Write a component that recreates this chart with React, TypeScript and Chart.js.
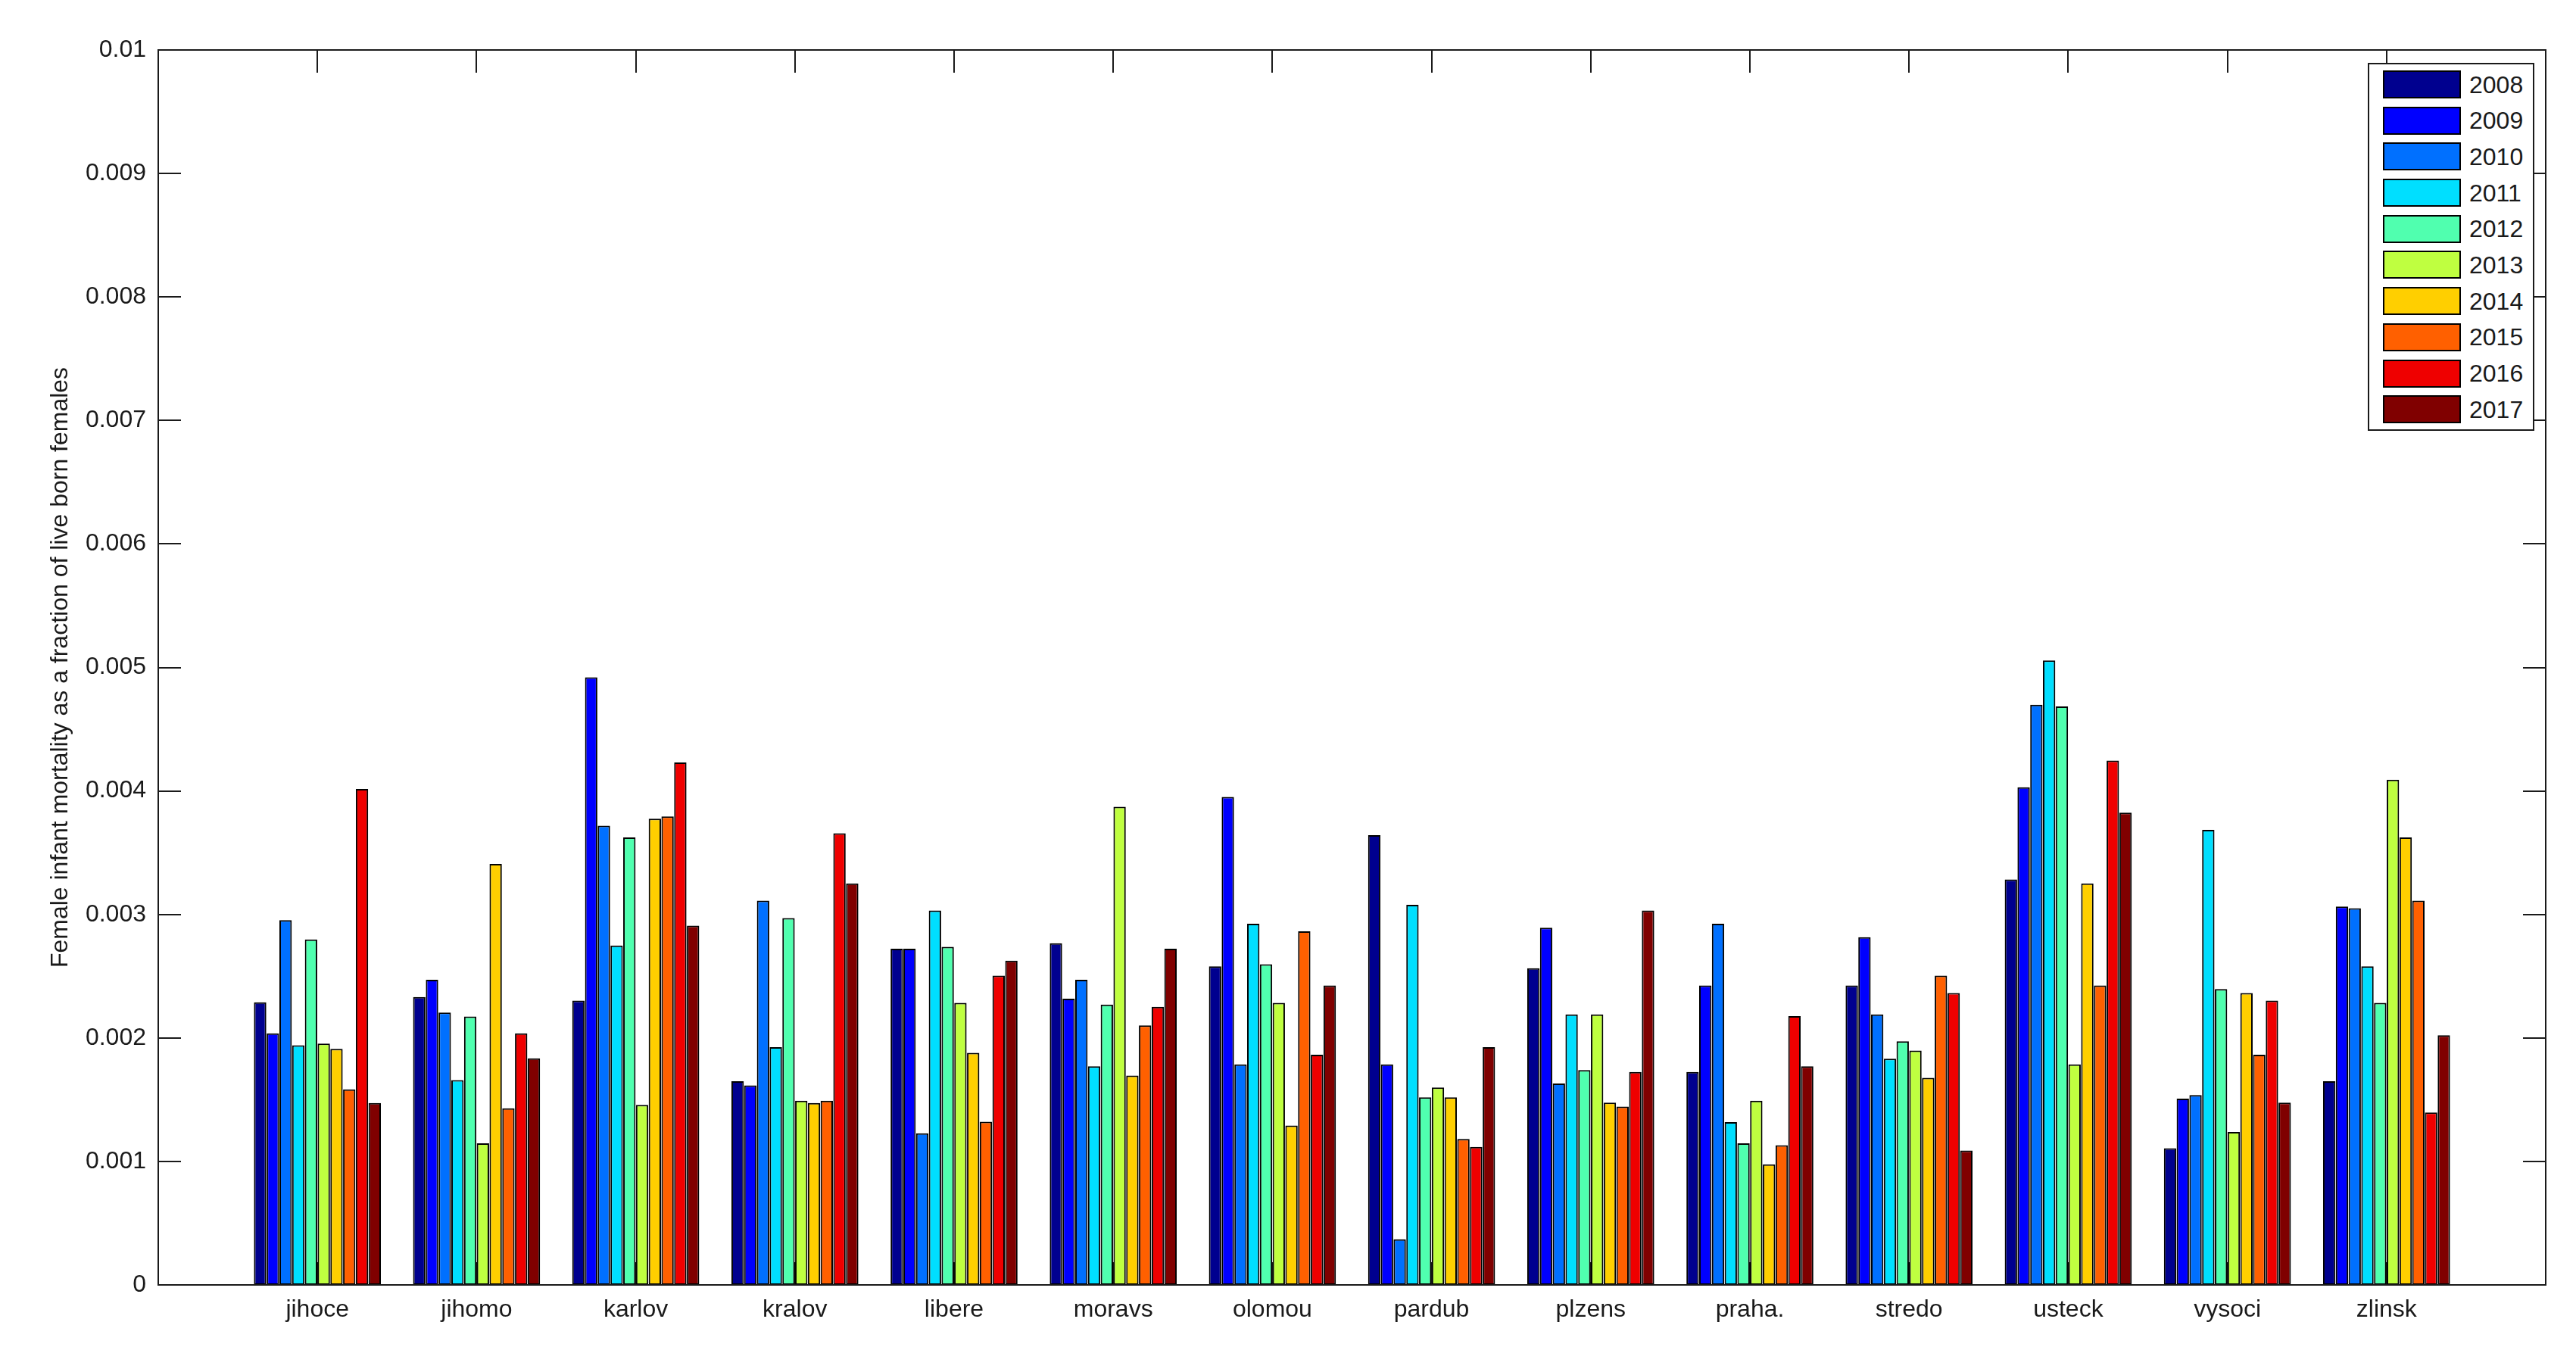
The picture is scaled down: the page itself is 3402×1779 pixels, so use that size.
import React, { useEffect, useRef } from "react";
import { Chart, registerables } from "chart.js";

Chart.register(...registerables);

// ---------- data ----------
const regions = [
  "jihoce", "jihomo", "karlov", "kralov", "libere", "moravs", "olomou",
  "pardub", "plzens", "praha.", "stredo", "usteck", "vysoci", "zlinsk",
];

const years = ["2008", "2009", "2010", "2011", "2012", "2013", "2014", "2015", "2016", "2017"];

const yearColors = [
  "#00008F", "#0000FF", "#0070FF", "#00DFFF", "#50FFAF",
  "#BFFF40", "#FFCF00", "#FF6000", "#EF0000", "#800000",
];

const v2008 = [0.002288, 0.002331, 0.002302, 0.001649, 0.002723, 0.002766, 0.002579, 0.003642, 0.002565, 0.001724, 0.002425, 0.003283, 0.001106, 0.001649];
const v2009 = [0.002037, 0.002471, 0.004921, 0.001616, 0.002723, 0.002317, 0.003951, 0.001785, 0.002892, 0.002425, 0.002816, 0.004030, 0.001509, 0.003064];
const v2010 = [0.002953, 0.002205, 0.003718, 0.003111, 0.001228, 0.002471, 0.001785, 0.000370, 0.001631, 0.002924, 0.002191, 0.004698, 0.001537, 0.003050];
const v2011 = [0.001940, 0.001659, 0.002748, 0.001925, 0.003032, 0.001771, 0.002924, 0.003078, 0.002191, 0.001318, 0.001832, 0.005057, 0.003685, 0.002579];
const v2012 = [0.002798, 0.002173, 0.003624, 0.002971, 0.002737, 0.002270, 0.002597, 0.001519, 0.001739, 0.001146, 0.001972, 0.004684, 0.002396, 0.002284];
const v2013 = [0.001954, 0.001146, 0.001458, 0.001491, 0.002284, 0.003872, 0.002284, 0.001598, 0.002191, 0.001491, 0.001897, 0.001785, 0.001239, 0.004091];
const v2014 = [0.001911, 0.003409, 0.003775, 0.001473, 0.001879, 0.001695, 0.001290, 0.001519, 0.001476, 0.000977, 0.001677, 0.003251, 0.002364, 0.003624];
const v2015 = [0.001584, 0.001430, 0.003793, 0.001491, 0.001322, 0.002101, 0.002863, 0.001182, 0.001444, 0.001131, 0.002504, 0.002425, 0.001864, 0.003111];
const v2016 = [0.004016, 0.002037, 0.004231, 0.003657, 0.002504, 0.002252, 0.001864, 0.001117, 0.001724, 0.002177, 0.002364, 0.004246, 0.002302, 0.001397];
const v2017 = [0.001473, 0.001835, 0.002909, 0.003251, 0.002626, 0.002723, 0.002425, 0.001925, 0.003032, 0.001771, 0.001088, 0.003825, 0.001476, 0.002022];

const seriesValues = [v2008, v2009, v2010, v2011, v2012, v2013, v2014, v2015, v2016, v2017];

const yTickValues = [0, 0.001, 0.002, 0.003, 0.004, 0.005, 0.006, 0.007, 0.008, 0.009, 0.01];
const yTickLabels = ["0", "0.001", "0.002", "0.003", "0.004", "0.005", "0.006", "0.007", "0.008", "0.009", "0.01"];

const yTitle = "Female infant mortality as a fraction of live born females";

// ---------- styles ----------
const W = 3402;
const H = 1779;
const FONT = "'Liberation Sans', Arial, Helvetica, sans-serif";
const INK = "#1a1a1a";
const TICK_LEN = 30;

const boxAndTicks = {
  id: "boxAndTicks",
  beforeDatasetsDraw(chart: any) {
    const { ctx, chartArea: a, scales } = chart;
    const x = scales.x;
    const y = scales.y;
    ctx.save();
    ctx.strokeStyle = INK;
    ctx.lineWidth = 2;
    ctx.beginPath();
    x.ticks.forEach((_t: any, i: number) => {
      const px = Math.round(x.getPixelForTick(i));
      ctx.moveTo(px, a.top);
      ctx.lineTo(px, a.top + TICK_LEN);
      ctx.moveTo(px, a.bottom);
      ctx.lineTo(px, a.bottom - TICK_LEN);
    });
    y.ticks.forEach((_t: any, i: number) => {
      const py = Math.round(y.getPixelForTick(i));
      ctx.moveTo(a.left, py);
      ctx.lineTo(a.left + TICK_LEN, py);
      ctx.moveTo(a.right, py);
      ctx.lineTo(a.right - TICK_LEN, py);
    });
    ctx.stroke();
    ctx.restore();
  },
  afterDatasetsDraw(chart: any) {
    const { ctx, chartArea: a } = chart;
    ctx.save();
    ctx.strokeStyle = INK;
    ctx.lineWidth = 2;
    ctx.strokeRect(a.left, a.top, a.right - a.left, a.bottom - a.top);
    ctx.restore();
  },
};

export default function App() {
  const canvasRef = useRef<HTMLCanvasElement | null>(null);

  useEffect(() => {
    document.body.style.overflow = "hidden";
    const canvas = canvasRef.current;
    if (!canvas) return;

    const datasets = years.map((yr, s) => ({
      label: yr,
      data: seriesValues[s].map((v, i) => ({ x: i + 1, y: v })),
      backgroundColor: yearColors[s],
      borderColor: "#000000",
      borderWidth: 2,
      borderSkipped: false as const,
      barPercentage: 0.97,
      categoryPercentage: 0.8,
    }));

    const chart = new Chart(canvas, {
      type: "bar",
      data: { datasets },
      options: {
        animation: false,
        responsive: false,
        devicePixelRatio: 1,
        layout: { padding: { top: 66, right: 40, bottom: 0, left: 0 } },
        plugins: {
          legend: { display: false },
          tooltip: { enabled: false },
        },
        scales: {
          x: {
            type: "linear",
            min: 0,
            max: regions.length + 1,
            offset: false,
            grid: { display: false, drawTicks: false, offset: false },
            border: { display: false },
            afterBuildTicks: (scale: any) => {
              scale.ticks = regions.map((_r, i) => ({ value: i + 1 }));
            },
            afterFit: (scale: any) => {
              scale.height = H - 1697;
            },
            ticks: {
              autoSkip: false,
              maxRotation: 0,
              padding: 14,
              color: INK,
              font: { family: FONT, size: 32 },
              callback: (value: any) => regions[Number(value) - 1] ?? "",
            },
          },
          y: {
            type: "linear",
            min: 0,
            max: 0.01,
            grid: { display: false, drawTicks: false },
            border: { display: false },
            afterBuildTicks: (scale: any) => {
              scale.ticks = yTickValues.map((v) => ({ value: v }));
            },
            afterFit: (scale: any) => {
              scale.width = 209;
            },
            ticks: {
              padding: 16,
              color: INK,
              font: { family: FONT, size: 32 },
              callback: (_v: any, i: number) => yTickLabels[i],
            },
            title: {
              display: true,
              text: yTitle,
              color: INK,
              font: { family: FONT, size: 32 },
              padding: { top: 61, bottom: 0 },
            },
          },
        },
      },
      plugins: [boxAndTicks],
    } as any);

    return () => {
      chart.destroy();
    };
  }, []);

  return (
    <div style={{ position: "absolute", left: 0, top: 0, width: W, height: H, background: "#ffffff" }}>
      <canvas ref={canvasRef} width={W} height={H} style={{ width: W, height: H, display: "block" }} />
      <div
        style={{
          position: "absolute",
          left: 3127,
          top: 83,
          width: 220,
          height: 486,
          boxSizing: "border-box",
          border: `2px solid ${INK}`,
          background: "#ffffff",
          paddingTop: 8,
          paddingLeft: 18,
          display: "flex",
          flexDirection: "column",
          gap: 10.7,
          fontFamily: FONT,
          fontSize: 32,
          color: INK,
        }}
      >
        {years.map((yr, s) => (
          <div key={yr} style={{ display: "flex", alignItems: "center", height: 37, lineHeight: 1 }}>
            <div
              style={{
                width: 103,
                height: 37,
                boxSizing: "border-box",
                border: "2px solid #000",
                background: yearColors[s],
                marginRight: 11,
                flex: "none",
              }}
            />
            <span>{yr}</span>
          </div>
        ))}
      </div>
    </div>
  );
}
